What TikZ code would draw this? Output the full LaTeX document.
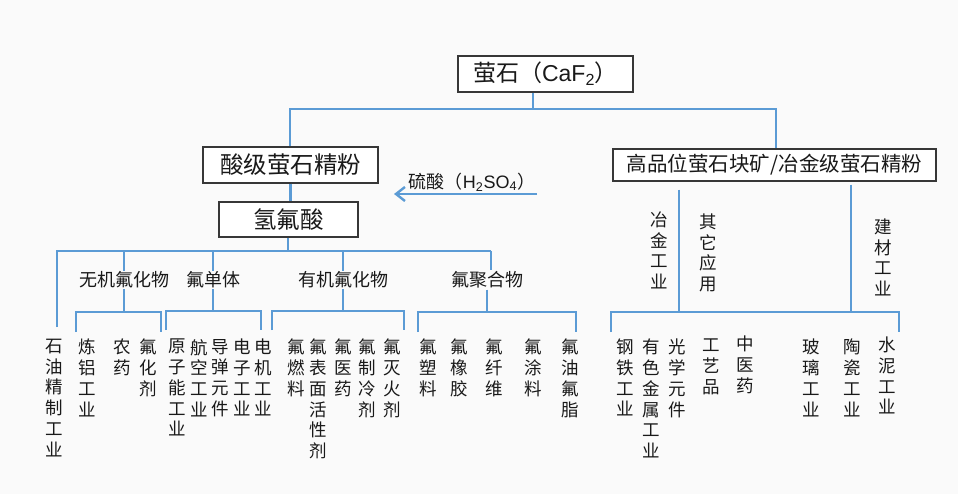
\documentclass[tikz,border=0pt]{standalone}
\usepackage{fontspec}
\setmainfont{Noto Sans CJK SC}
\newfontfamily\lat{Liberation Sans}
\usetikzlibrary{arrows.meta}
\definecolor{lnblue}{RGB}{91,155,213}
\definecolor{bordergray}{RGB}{55,55,55}
\definecolor{txt}{RGB}{25,25,25}
\begin{document}
\begin{tikzpicture}[x=1pt,y=-1pt,
  conn/.style={draw=lnblue,line width=2.4pt},
  box/.style={draw=bordergray,line width=1.1pt,fill=white,text=txt,inner sep=0pt,font=\fontsize{23.5}{27}\selectfont},
  cat/.style={text=txt,inner sep=1pt,font=\fontsize{18}{22}\selectfont},
  leaf/.style={text=txt,inner sep=0pt,anchor=north,align=center,font=\fontsize{17.5}{20.7}\selectfont},
]
\fill[white!98!black] (0,0) rectangle (958,494);
\useasboundingbox (0,0) rectangle (958,494);

% boxes
\node[box,minimum width=175pt,minimum height=36pt,font=\fontsize{23}{27}\selectfont] (caf) at (545.5,74) {萤石（{\lat CaF\textsubscript{2}}）};
\node[box,minimum width=175pt,minimum height=36pt] (acid) at (290.5,165) {酸级萤石精粉};
\node[box,minimum width=139pt,minimum height=35pt] (hf) at (288.5,219.5) {氢氟酸};
\node[box,minimum width=323pt,minimum height=32pt,font=\fontsize{20.5}{24}\selectfont] (high) at (774.5,165) {高品位萤石块矿/冶金级萤石精粉};

% top connectors
\coordinate (j0) at (533,109);
\coordinate (jl) at (290,109);
\coordinate (jr) at (776,109);
\draw[conn] (caf.south -| j0) -- (j0);
\draw[conn] (jl |- acid.north) -- (jl) -- (jr) -- (jr |- high.north);
\draw[conn] (acid.south) -- (acid.south |- hf.north);

% sulfuric acid arrow
\node[cat] (h2so4) at (472,182) {硫酸（{\lat H\textsubscript{2}SO\textsubscript{4}}）};
\coordinate (as) at (537,194);
\coordinate (ae) at (394,194);
\draw[conn,-{Straight Barb[length=9pt,width=14pt]}] (as) -- (ae);

% HF level bar
\coordinate (b0) at (288,251);
\coordinate (bl) at (57,251);
\coordinate (br) at (491,251);
\draw[conn] (hf.south -| b0) -- (b0);
\draw[conn] (bl) ++(0,76) -- (bl) -- (br);

% categories
\node[cat] (inorg) at (124,280) {无机氟化物};
\node[cat] (mono) at (213,280) {氟单体};
\node[cat] (org) at (343,280) {有机氟化物};
\node[cat] (poly) at (487,280) {氟聚合物};
\draw[conn] (inorg.north |- bl) -- (inorg.north);
\draw[conn] (mono.north |- bl) -- (mono.north);
\draw[conn] (org.north |- bl) -- (org.north);
\draw[conn] (br) -- (br |- poly.north);

% sub bars
\coordinate (i1) at (76,312); \coordinate (i2) at (161,312);
\coordinate (m1) at (166,311); \coordinate (m2) at (261,311);
\coordinate (o1) at (272,311); \coordinate (o2) at (404,311);
\coordinate (p1) at (418,312); \coordinate (p2) at (576,312);
\draw[conn] (inorg.south) -- (inorg.south |- i1);
\draw[conn] (mono.south) -- (mono.south |- m1);
\draw[conn] (org.south) -- (org.south |- o1);
\draw[conn] (poly.south) -- (poly.south |- p1);
\draw[conn] (i1) ++(0,20) -- (i1) -- (i2) -- ++(0,20);
\draw[conn] (m1) ++(0,19) -- (m1) -- (m2) -- ++(0,19);
\draw[conn] (o1) ++(0,19) -- (o1) -- (o2) -- ++(0,19);
\draw[conn] (p1) ++(0,20) -- (p1) -- (p2) -- ++(0,20);

% left leaves
\node[leaf] (l1) at (54,339) {石\\油\\精\\制\\工\\业};
\node[leaf] (l2) at (87,339) {炼\\铝\\工\\业};
\node[leaf] (l3) at (122,339) {农\\药};
\node[leaf] (l4) at (148,339) {氟\\化\\剂};
\node[leaf] (l5) at (177,339) {原\\子\\能\\工\\业};
\node[leaf] (l6) at (199,339) {航\\空\\工\\业};
\node[leaf] (l7) at (220,339) {导\\弹\\元\\件};
\node[leaf] (l8) at (242,339) {电\\子\\工\\业};
\node[leaf] (l9) at (263,339) {电\\机\\工\\业};
\node[leaf] (l10) at (296,339) {氟\\燃\\料};
\node[leaf] (l11) at (318,339) {氟\\表\\面\\活\\性\\剂};
\node[leaf] (l12) at (343,339) {氟\\医\\药};
\node[leaf] (l13) at (367,339) {氟\\制\\冷\\剂};
\node[leaf] (l14) at (392,339) {氟\\灭\\火\\剂};
\node[leaf] (l15) at (428,339) {氟\\塑\\料};
\node[leaf] (l16) at (459,339) {氟\\橡\\胶};
\node[leaf] (l17) at (494,339) {氟\\纤\\维};
\node[leaf] (l18) at (533,339) {氟\\涂\\料};
\node[leaf] (l19) at (570,339) {氟\\油\\氟\\脂};

% right side
\coordinate (r1) at (679,312); \coordinate (r2) at (851,312);
\coordinate (rl) at (611,312); \coordinate (rr) at (899,312);
\draw[conn] ([yshift=-8pt]high.south -| r1) -- (r1);
\draw[conn] ([yshift=-3pt]high.south -| r2) -- (r2);
\draw[conn] (rl) ++(0,20) -- (rl) -- (rr) -- ++(0,20);

\node[leaf] (c1) at (659,211.5) {冶\\金\\工\\业};
\node[leaf] (c2) at (708,213.5) {其\\它\\应\\用};
\node[leaf] (c3) at (883,218.5) {建\\材\\工\\业};

\node[leaf] (q1) at (625,339) {钢\\铁\\工\\业};
\node[leaf] (q2) at (651,339) {有\\色\\金\\属\\工\\业};
\node[leaf] (q3) at (677,339) {光\\学\\元\\件};
\node[leaf] (q4) at (711,339) {工\\艺\\品};
\node[leaf] (q5) at (745,336) {中\\医\\药};
\node[leaf] (q6) at (811,339) {玻\\璃\\工\\业};
\node[leaf] (q7) at (852,339) {陶\\瓷\\工\\业};
\node[leaf] (q8) at (887,337) {水\\泥\\工\\业};
\end{tikzpicture}
\end{document}
